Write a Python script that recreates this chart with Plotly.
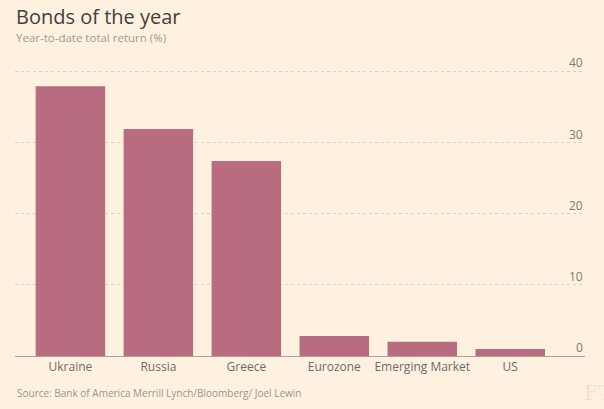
import plotly.graph_objects as go

# year-to-date total return (%)
markets = ['Ukraine', 'Russia', 'Greece', 'Eurozone', 'Emerging Market', 'US']
returns = [37.9, 31.9, 27.4, 2.8, 2.0, 1.0]
y_ticks = [0, 10, 20, 30, 40]

bg = '#fff1e0'
bar_colour = '#b96b7f'
font = 'Open Sans'

fig = go.Figure(go.Bar(
    x=markets,
    y=returns,
    marker=dict(color=bar_colour, line=dict(width=0)),
    hoverinfo='skip',
))

annotations = [
    # title and subtitle
    dict(text='Bonds of the year', xref='paper', yref='paper',
         x=-0.002, y=1.186, xanchor='left', yanchor='middle', showarrow=False,
         font=dict(family=font, size=20, color='#43403c')),
    dict(text='Year-to-date total return (%)', xref='paper', yref='paper',
         x=-0.002, y=1.115, xanchor='left', yanchor='middle', showarrow=False,
         font=dict(family=font, size=11.5, color='#a09a93')),
    # source line
    dict(text='Source: Bank of America Merrill Lynch/Bloomberg/ Joel Lewin',
         xref='paper', yref='paper', x=0.0, y=-0.128,
         xanchor='left', yanchor='middle', showarrow=False,
         font=dict(family=font, size=10, color='#9a948d')),
    # faint FT mark, clipped at the right edge as in the original
    dict(text='FT', xref='paper', yref='paper', x=0.995, y=-0.13,
         xanchor='left', yanchor='middle', showarrow=False,
         font=dict(family='DejaVu Serif', size=21, color='#f4e0cf')),
]
# y tick labels sit just above their gridline, right aligned inside the plot
for v in y_ticks:
    annotations.append(dict(text=str(v), xref='paper', yref='y', x=1.0, y=v,
                            xanchor='right', yanchor='bottom', yshift=-2,
                            showarrow=False,
                            font=dict(family=font, size=12, color='#807a73')))

fig.update_layout(
    width=604,
    height=409,
    margin=dict(l=15, r=19, t=70, b=53),
    paper_bgcolor=bg,
    plot_bgcolor=bg,
    bargap=0.21,
    showlegend=False,
    font=dict(family=font, size=12, color='#74706b'),
    annotations=annotations,
)

fig.update_xaxes(
    range=[-0.63, 5.85],
    showline=True,
    linecolor='#a8a29b',
    linewidth=1,
    showgrid=False,
    ticks='',
    tickfont=dict(family=font, size=12, color='#6f6a65'),
    fixedrange=True,
)

fig.update_yaxes(
    range=[0, 40.2],
    tickvals=y_ticks,
    showticklabels=False,
    showgrid=True,
    gridcolor='#d9d1c7',
    griddash='dot',
    gridwidth=1,
    zeroline=False,
    showline=False,
    ticks='',
    fixedrange=True,
)

fig.write_html('out.html', config={'displayModeBar': False},
               post_script="document.body.style.margin='0';")
